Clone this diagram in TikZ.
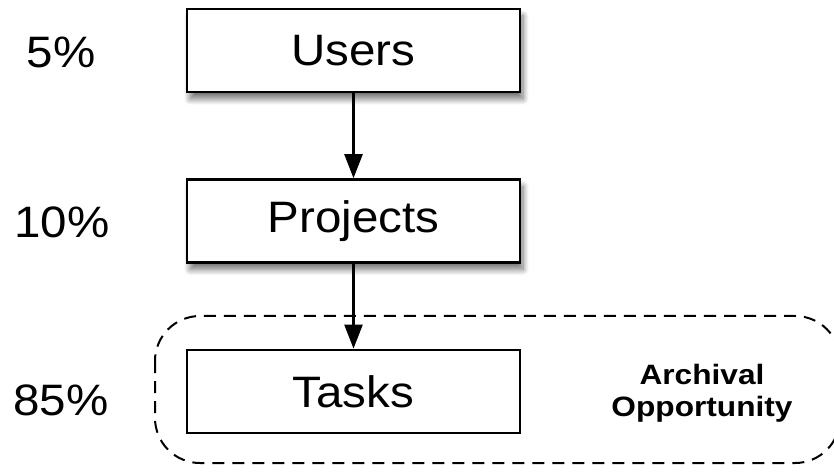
\documentclass[tikz,border=0pt]{standalone}
\usepackage{fontspec}
\setmainfont[FakeStretch=1.08]{Liberation Sans}
\newfontfamily\notefont[FakeStretch=1.13]{Liberation Sans}
\usetikzlibrary{arrows.meta,positioning,shadows.blur}

\tikzset{
  levelbox/.style={draw, fill=white, line width=2.4bp, minimum width=333bp,
    minimum height=83bp, font=\fontsize{44bp}{50bp}\selectfont},
  shadowed/.style={blur shadow={shadow xshift=3bp, shadow yshift=-7bp,
    shadow blur radius=6bp, shadow blur steps=12, shadow opacity=55}},
  pct/.style={font=\fontsize{44bp}{50bp}\selectfont},
  flow/.style={->, line width=2.4bp}
}

\begin{document}
\begin{tikzpicture}[x=1bp, y=-1bp, >={Triangle[length=24bp,width=18bp]}]
    \useasboundingbox (0,0) rectangle (834,472);

    % archival region
    \draw[dashed, dash pattern=on 12bp off 8bp, line width=2bp, rounded corners=45bp]
        (155,316) rectangle (840,463);

    % levels
    \node[levelbox, shadowed] (users) at (353.5,50.5) {Users};
    \node[levelbox, shadowed, below=85bp of users] (projects) {Projects};
    \node[levelbox, below=85bp of projects] (tasks) {Tasks};

    \node[font=\notefont\fontsize{28bp}{32bp}\selectfont\bfseries, align=center] (archival) at (702,393) {Archival\\Opportunity};

    % shares
    \node[pct] (pusers) at (61,52) {5\%};
    \node[pct] (pprojects) at (62,222) {10\%};
    \node[pct] (ptasks) at (61,400) {85\%};

    \draw[flow] (users) -- (projects);
    \draw[flow] (projects) -- (tasks);

\end{tikzpicture}
\end{document}
